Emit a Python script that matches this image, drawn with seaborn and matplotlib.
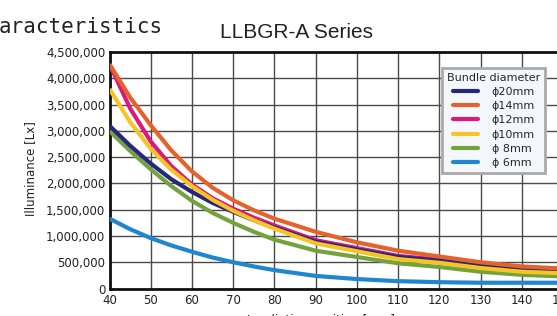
import numpy as np
import pandas as pd
import matplotlib
matplotlib.use("Agg")
import matplotlib.pyplot as plt
import seaborn as sns
from matplotlib.ticker import FuncFormatter
from matplotlib.lines import Line2D

# ---- data (in millions of lx) ----
positions = [40, 45, 50, 55, 60, 65, 70, 75, 80, 90, 100, 110, 120, 130, 140, 150]
series_labels = ["ϕ20mm", "ϕ14mm", "ϕ12mm", "ϕ10mm", "ϕ 8mm", "ϕ 6mm"]
lux_20mm = [3.10, 2.72, 2.38, 2.08, 1.84, 1.63, 1.46, 1.30, 1.16, 0.89, 0.74, 0.60, 0.53, 0.43, 0.36, 0.33]
lux_14mm = [4.27, 3.64, 3.11, 2.63, 2.23, 1.92, 1.68, 1.49, 1.33, 1.08, 0.88, 0.72, 0.61, 0.50, 0.42, 0.38]
lux_12mm = [4.27, 3.43, 2.80, 2.33, 1.98, 1.72, 1.52, 1.35, 1.20, 0.92, 0.77, 0.62, 0.55, 0.45, 0.37, 0.34]
lux_10mm = [3.80, 3.17, 2.66, 2.26, 1.95, 1.69, 1.48, 1.30, 1.14, 0.86, 0.71, 0.56, 0.49, 0.39, 0.32, 0.29]
lux_8mm = [3.00, 2.62, 2.27, 1.95, 1.67, 1.44, 1.25, 1.08, 0.93, 0.72, 0.60, 0.48, 0.41, 0.32, 0.26, 0.23]
lux_6mm = [1.33, 1.13, 0.96, 0.82, 0.70, 0.59, 0.50, 0.42, 0.35, 0.24, 0.18, 0.14, 0.12, 0.11, 0.11, 0.11]
series_values = [lux_20mm, lux_14mm, lux_12mm, lux_10mm, lux_8mm, lux_6mm]
colors = ["#27287c", "#e5632a", "#d9197b", "#f6c423", "#74a33e", "#1f86cf"]
y_ticks = [0, 500000, 1000000, 1500000, 2000000, 2500000, 3000000, 3500000, 4000000, 4500000]
x_ticks = [40, 50, 60, 70, 80, 90, 100, 110, 120, 130, 140, 150]

rows = []
for lab, vals in zip(series_labels, series_values):
    for x, v in zip(positions, vals):
        rows.append({"pos": x, "lux": v * 1e6, "size": lab})
df = pd.DataFrame(rows)

sns.set_style("white")
plt.rcParams["font.family"] = ["DejaVu Sans"]

fig = plt.figure(figsize=(5.57, 3.16), dpi=100)
ax = fig.add_axes([0.1966, 0.0870, 0.8142, 0.7478])

draw_order = ["ϕ 6mm", "ϕ 8mm", "ϕ12mm", "ϕ20mm", "ϕ10mm", "ϕ14mm"]
pal = dict(zip(series_labels, colors))
for lab in draw_order:
    sns.lineplot(data=df[df["size"] == lab], x="pos", y="lux", color=pal[lab],
                 lw=3.0, ax=ax, legend=False, zorder=3)
for ln in ax.lines:
    ln.set_solid_joinstyle("round")
    ln.set_solid_capstyle("butt")

ax.set_xlim(40, 150)
ax.set_ylim(0, 4500000)
ax.set_xticks(x_ticks)
ax.set_yticks(y_ticks)
ax.yaxis.set_major_formatter(FuncFormatter(lambda v, p: f"{int(v):,}"))
ax.grid(True, color="#4a4a4a", lw=1.0, zorder=1)
ax.tick_params(axis="both", labelsize=8.5, length=0, colors="#222222")
ax.tick_params(axis="x", pad=4)
ax.tick_params(axis="y", pad=3)
for s in ["left", "bottom", "top"]:
    ax.spines[s].set_color("#111111")
    ax.spines[s].set_linewidth(2.0)
ax.spines["right"].set_visible(False)
ax.set_xlabel("")
ax.set_ylabel("")

# legend
handles = [Line2D([0], [0], color=c, lw=3) for c in colors]
leg = ax.legend(handles, series_labels, title="Bundle diameter", loc="upper right",
                bbox_to_anchor=(0.9735, 0.958), fontsize=8, title_fontsize=8,
                handlelength=2.3, handletextpad=1.2, labelspacing=0.38,
                borderpad=0.45, frameon=True, fancybox=False, framealpha=1.0)
leg.get_frame().set_facecolor("#f4f8fc")
leg.get_frame().set_edgecolor("#aaaaaa")
leg.get_frame().set_linewidth(2.0)
leg.set_zorder(5)

# texts
fig.text(0.533, 0.898, "LLBGR-A Series", ha="center", va="center",
         fontsize=15, family="Liberation Sans", color="#222222")
fig.text(-0.002, 0.915, "aracteristics", ha="left", va="center",
         fontsize=15, family="DejaVu Sans Mono", color="#222222")
fig.text(0.054, 0.468, "Illuminance [Lx]", ha="center", va="center",
         rotation=90, fontsize=8.5, color="#222222")
fig.text(0.577, -0.014, "Irradiation position [mm]", ha="center", va="center",
         fontsize=8.5, color="#222222")

fig.savefig("out.png", dpi=100)
